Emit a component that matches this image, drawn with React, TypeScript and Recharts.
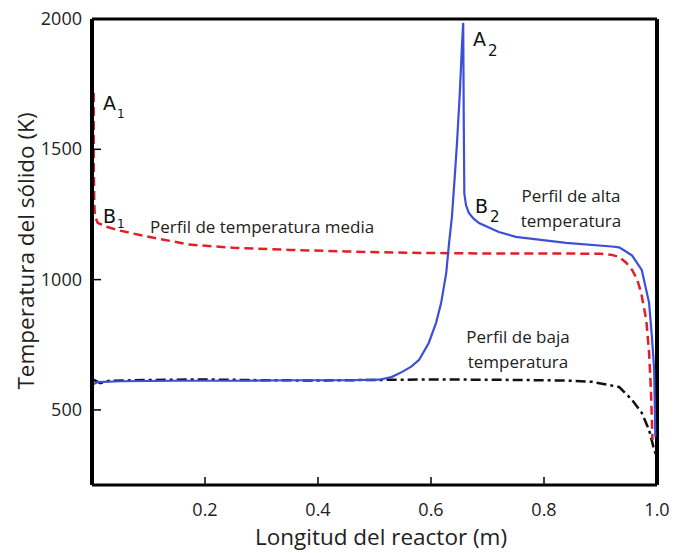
import React from 'react';
import { LineChart, Line, XAxis, YAxis, ReferenceLine, Customized } from 'recharts';

// Tick labels
const xTicks = [0.2, 0.4, 0.6, 0.8, 1.0];
const yTicks = [500, 1000, 1500, 2000];

// Perfil de temperatura media (rojo, discontinuo): [longitud (m), temperatura (K)]
const perfilMedia: [number, number][] = [
  [0.003, 1716], [0.003, 1600], [0.003, 1450], [0.004, 1300], [0.005, 1245],
  [0.01, 1218], [0.025, 1203], [0.05, 1188], [0.085, 1171], [0.17, 1135],
  [0.25, 1122], [0.35, 1114], [0.45, 1108], [0.556, 1103], [0.65, 1101],
  [0.75, 1100], [0.85, 1100], [0.9, 1099], [0.92, 1095], [0.933, 1087],
  [0.945, 1066], [0.956, 1037], [0.965, 1000], [0.972, 949], [0.981, 845],
  [0.986, 719], [0.989, 588], [0.991, 462], [0.992, 385],
];

// Perfil de alta temperatura (azul, continuo)
const perfilAlta: [number, number][] = [
  [0.003, 600], [0.01, 607], [0.05, 610], [0.15, 612], [0.25, 612],
  [0.35, 614], [0.45, 614], [0.508, 616], [0.53, 626], [0.549, 646],
  [0.565, 666], [0.579, 692], [0.596, 757], [0.609, 834], [0.618, 911],
  [0.627, 1026], [0.632, 1141], [0.637, 1240], [0.642, 1394], [0.646, 1524],
  [0.651, 1716], [0.655, 1908], [0.657, 1985], [0.658, 1600], [0.659, 1330],
  [0.662, 1285], [0.667, 1256], [0.675, 1235], [0.685, 1217], [0.72, 1183],
  [0.75, 1164], [0.839, 1141], [0.92, 1127], [0.933, 1124], [0.945, 1108],
  [0.956, 1092], [0.973, 1037], [0.986, 911], [0.991, 780], [0.995, 654],
  [0.996, 527], [0.997, 397],
];

// Perfil de baja temperatura (negro, trazo y punto)
const perfilBaja: [number, number][] = [
  [0.003, 615], [0.015, 603], [0.03, 612], [0.1, 615], [0.2, 617],
  [0.3, 614], [0.4, 613], [0.5, 615], [0.6, 617], [0.7, 616],
  [0.8, 614], [0.85, 612], [0.885, 608], [0.933, 588], [0.956, 538],
  [0.973, 489], [0.986, 423], [0.995, 347], [0.998, 330],
];

const toRows = (pts: [number, number][]) => pts.map(([x, t]) => ({ x, t }));

const X_MARGIN = 16;
const Y_MARGIN = 10;
const FONT = '"Open Sans", "Noto Sans", sans-serif';
const LETTER_FONT = '"DejaVu Sans", sans-serif';

const XTick = (props: any) => {
  const { x, y, payload } = props;
  const axisY = y - X_MARGIN;
  return (
    <g>
      <line x1={x} x2={x} y1={axisY} y2={axisY - 8} stroke="#000" strokeWidth={1.5} />
      <text x={x} y={y + 15} textAnchor="middle" fontSize={18} fontFamily={FONT} fill="#222">
        {Number(payload.value).toFixed(1)}
      </text>
    </g>
  );
};

const YTick = (props: any) => {
  const { x, y, payload } = props;
  const axisX = x + Y_MARGIN;
  return (
    <g>
      <line x1={axisX} x2={axisX + 9} y1={y} y2={y} stroke="#000" strokeWidth={1.5} />
      <text x={x} y={y + 6} textAnchor="end" fontSize={18} fontFamily={FONT} fill="#222">
        {payload.value}
      </text>
    </g>
  );
};

const Annotations = () => (
  <g>
    <text x={34} y={251} transform="rotate(-90, 34, 251)" textAnchor="middle" fontSize={22.5} fontFamily={FONT} fill="#222">
      Temperatura del sólido (K)
    </text>
    <text x={381} y={545} textAnchor="middle" fontSize={22.5} fontFamily={FONT} fill="#222">
      Longitud del reactor (m)
    </text>

    <text x={103} y={110} fontSize={19} fontFamily={LETTER_FONT} fill="#111">A</text>
    <text x={117} y={118} fontSize={12} fontFamily={LETTER_FONT} fill="#111">1</text>
    <text x={103} y={223} fontSize={19} fontFamily={LETTER_FONT} fill="#111">B</text>
    <text x={117} y={228} fontSize={12} fontFamily={LETTER_FONT} fill="#111">1</text>
    <text x={473} y={46} fontSize={19} fontFamily={LETTER_FONT} fill="#111">A</text>
    <text x={488} y={56} fontSize={15} fontFamily={LETTER_FONT} fill="#111">2</text>
    <text x={475} y={213} fontSize={19} fontFamily={LETTER_FONT} fill="#111">B</text>
    <text x={490} y={222} fontSize={15} fontFamily={LETTER_FONT} fill="#111">2</text>

    <text x={150} y={233} fontSize={17} fontFamily={FONT} fill="#222">Perfil de temperatura media</text>
    <text x={571} y={202} textAnchor="middle" fontSize={17} fontFamily={FONT} fill="#222">Perfil de alta</text>
    <text x={571} y={227} textAnchor="middle" fontSize={17} fontFamily={FONT} fill="#222">temperatura</text>
    <text x={518} y={343} textAnchor="middle" fontSize={17} fontFamily={FONT} fill="#222">Perfil de baja</text>
    <text x={518} y={368} textAnchor="middle" fontSize={17} fontFamily={FONT} fill="#222">temperatura</text>
  </g>
);

export default function App() {
  return (
    <div style={{ position: 'absolute', left: 0, top: 0, width: 681, height: 553, background: '#fff' }}>
      <LineChart width={681} height={553} margin={{ top: 19, right: 24, left: 0, bottom: 18 }}>
        <XAxis
          type="number"
          dataKey="x"
          domain={[0, 1]}
          ticks={xTicks}
          interval={0}
          allowDataOverflow
          height={50}
          tickSize={0}
          tickMargin={X_MARGIN}
          tickLine={false}
          tick={<XTick />}
          axisLine={{ stroke: '#000', strokeWidth: 3 }}
        />
        <YAxis
          type="number"
          dataKey="t"
          domain={[212, 2000]}
          ticks={yTicks}
          interval={0}
          allowDataOverflow
          width={92}
          tickSize={0}
          tickMargin={Y_MARGIN}
          tickLine={false}
          tick={<YTick />}
          axisLine={{ stroke: '#000', strokeWidth: 4 }}
        />
        <ReferenceLine y={2000} stroke="#000" strokeWidth={3} ifOverflow="visible" />
        <ReferenceLine x={1} stroke="#000" strokeWidth={4} ifOverflow="visible" />
        <Line
          data={toRows(perfilBaja)}
          dataKey="t"
          type="linear"
          stroke="#111"
          strokeWidth={2.5}
          strokeDasharray="10 4 3 4"
          dot={false}
          isAnimationActive={false}
        />
        <Line
          data={toRows(perfilMedia)}
          dataKey="t"
          type="linear"
          stroke="#e41e26"
          strokeWidth={2.5}
          strokeDasharray="9 5"
          dot={false}
          isAnimationActive={false}
        />
        <Line
          data={toRows(perfilAlta)}
          dataKey="t"
          type="linear"
          stroke="#3d4ed8"
          strokeWidth={2.2}
          dot={false}
          isAnimationActive={false}
        />
        <Customized component={<Annotations />} />
      </LineChart>
    </div>
  );
}
